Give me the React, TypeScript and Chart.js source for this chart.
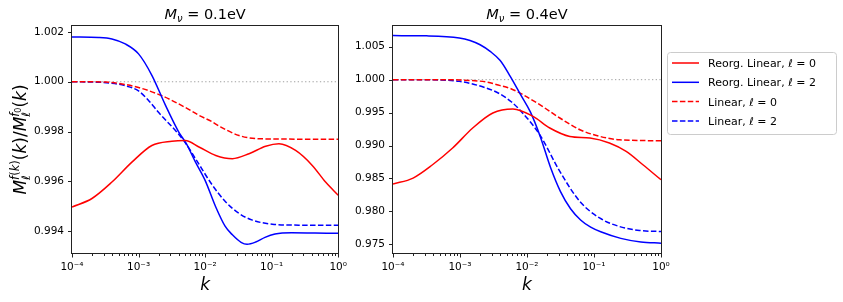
import React, { useEffect, useRef } from 'react';
import { Chart, registerables } from 'chart.js';

Chart.register(...registerables);

const FONT = "'DejaVu Sans', 'Liberation Sans', sans-serif";

// ---- Data: log10(k) sample positions and ratio values ----
// Panel 1: M_nu = 0.1 eV
const p1ReorgL0LogK = [-4, -3.7, -3.4, -3.1, -2.8, -2.5, -2.3, -2.085, -1.84, -1.59, -1.34, -1.09, -0.89, -0.64, -0.39, -0.19, 0];
const p1ReorgL0 = [0.99497, 0.99531, 0.99597, 0.99677, 0.99744, 0.99761, 0.99764, 0.99737, 0.99704, 0.99691, 0.99711, 0.99741, 0.99751, 0.99724, 0.99664, 0.99597, 0.99544];

const p1ReorgL2LogK = [-4, -3.6, -3.4, -3.2, -3.0, -2.8, -2.6, -2.4, -2.28, -2.15, -2.0, -1.84, -1.7, -1.59, -1.46, -1.37, -1.24, -1.1, -0.95, -0.7, -0.35, 0];
const p1ReorgL2 = [1.0018, 1.00178, 1.00172, 1.00152, 1.00112, 1.00026, 0.99908, 0.998, 0.9975, 0.9968, 0.99604, 0.99497, 0.9942, 0.99385, 0.99355, 0.99347, 0.99356, 0.99375, 0.99388, 0.99393, 0.99392, 0.99391];

const p1LinL0LogK = [-4, -3.5, -3.4, -3.2, -3.0, -2.65, -2.3, -2.085, -1.9, -1.79, -1.49, -1.19, -0.89, -0.5, 0];
const p1LinL0 = [1.0, 0.99999, 0.99997, 0.99989, 0.99977, 0.99944, 0.99897, 0.99864, 0.9984, 0.99822, 0.99784, 0.99771, 0.9977, 0.99769, 0.99769];

const p1LinL2LogK = [-4, -3.6, -3.4, -3.2, -3.0, -2.85, -2.7, -2.4, -2.28, -2.1, -1.9, -1.69, -1.49, -1.29, -0.99, -0.59, 0];
const p1LinL2 = [1.0, 0.99998, 0.99994, 0.99984, 0.99963, 0.99925, 0.99877, 0.9979, 0.99748, 0.99672, 0.99588, 0.99517, 0.99471, 0.99444, 0.99428, 0.99424, 0.99424];

// Panel 2: M_nu = 0.4 eV
const p2ReorgL0LogK = [-4, -3.7, -3.41, -3.11, -2.81, -2.51, -2.21, -1.91, -1.66, -1.36, -1.06, -0.77, -0.52, -0.27, 0];
const p2ReorgL0 = [0.98415, 0.98506, 0.98708, 0.98962, 0.99266, 0.99494, 0.99554, 0.99442, 0.99266, 0.99138, 0.99114, 0.99038, 0.9891, 0.98708, 0.9848];

const p2ReorgL2LogK = [-4, -3.5, -3.01, -2.85, -2.7, -2.55, -2.4, -2.25, -2.1, -1.95, -1.8, -1.65, -1.5, -1.35, -1.2, -1.05, -0.9, -0.6, -0.3, 0];
const p2ReorgL2 = [1.00669, 1.00665, 1.00634, 1.00595, 1.0053, 1.0043, 1.0029, 1.0005, 0.9978, 0.9951, 0.9913, 0.9867, 0.983, 0.9804, 0.9787, 0.9776, 0.9769, 0.9759, 0.97535, 0.97518];

const p2LinL0LogK = [-4, -3.3, -3.0, -2.61, -2.41, -2.24, -2.11, -1.81, -1.51, -1.21, -0.91, -0.62, 0];
const p2LinL0 = [1.0, 0.99999, 0.99995, 0.99965, 0.99913, 0.99863, 0.998, 0.9962, 0.99418, 0.9924, 0.99138, 0.99088, 0.99072];

const p2LinL2LogK = [-4, -3.5, -3.01, -2.61, -2.41, -2.23, -2.11, -1.81, -1.51, -1.21, -0.91, -0.62, -0.32, 0];
const p2LinL2 = [1.0, 0.99998, 0.99975, 0.99874, 0.99787, 0.99661, 0.99544, 0.99164, 0.98606, 0.9815, 0.97896, 0.9777, 0.9771, 0.97694];

// Axis ranges & ticks
const kMin = 1e-4;
const kMax = 1;
const p1YRange = [0.99308, 1.00228];
const p1YStep = 0.002;
const p2YRange = [0.97353, 1.0083];
const p2YStep = 0.005;
const refLevel = 1.0;

const seriesLabels = ['Reorg. Linear, ℓ = 0', 'Reorg. Linear, ℓ = 2', 'Linear, ℓ = 0', 'Linear, ℓ = 2'];
const superDigits: Record<string, string> = { '-': '⁻', '0': '⁰', '1': '¹', '2': '²', '3': '³', '4': '⁴', '5': '⁵', '6': '⁶', '7': '⁷', '8': '⁸', '9': '⁹' };

// ---- math-text helpers ----
type Run = { t: string; it?: boolean; s: number; dy?: number };
type Group = { sup: Run[]; sub: Run[] };
type Item = Run | Group;

const fontOf = (r: Run) => `${r.it ? 'italic ' : ''}${r.s}px ${FONT}`;
function runW(ctx: CanvasRenderingContext2D, r: Run) { ctx.font = fontOf(r); return ctx.measureText(r.t).width; }
function runsW(ctx: CanvasRenderingContext2D, rs: Run[]) { return rs.reduce((a, r) => a + runW(ctx, r), 0); }
function itemW(ctx: CanvasRenderingContext2D, it: Item) {
  return 'sup' in it ? Math.max(runsW(ctx, it.sup), runsW(ctx, it.sub)) : runW(ctx, it);
}
function mathW(ctx: CanvasRenderingContext2D, items: Item[]) { return items.reduce((a, it) => a + itemW(ctx, it), 0); }
function drawRuns(ctx: CanvasRenderingContext2D, rs: Run[], x: number, y: number) {
  let cx = x;
  for (const r of rs) { ctx.font = fontOf(r); ctx.fillText(r.t, cx, y + (r.dy || 0)); cx += ctx.measureText(r.t).width; }
  return cx;
}
function drawMath(ctx: CanvasRenderingContext2D, items: Item[], x: number, y: number) {
  let cx = x;
  for (const it of items) {
    if ('sup' in it) { drawRuns(ctx, it.sup, cx, y); drawRuns(ctx, it.sub, cx, y); cx += itemW(ctx, it); }
    else cx = drawRuns(ctx, [it], cx, y);
  }
}

function titleItems(mass: string): Item[] {
  return [
    { t: 'M', it: true, s: 14.5 },
    { t: 'ν', it: true, s: 10, dy: 3 },
    { t: ' = ' + mass, s: 14.5 },
    { t: 'eV', s: 14.5 },
  ];
}

const YS = 17;
const ys = 11.5;
const yLabelItems: Item[] = [
  { t: 'M', it: true, s: YS },
  { sup: [{ t: 'f', it: true, s: ys, dy: -7.5 }, { t: '(', s: ys, dy: -7.5 }, { t: 'k', it: true, s: ys, dy: -7.5 }, { t: ')', s: ys, dy: -7.5 }], sub: [{ t: 'ℓ', it: true, s: ys, dy: 4 }] },
  { t: '(', s: YS }, { t: 'k', it: true, s: YS }, { t: ')', s: YS }, { t: '/', s: YS },
  { t: 'M', it: true, s: YS },
  { sup: [{ t: 'f', it: true, s: ys, dy: -7.5 }, { t: '0', s: 8, dy: -5 }], sub: [{ t: 'ℓ', it: true, s: ys, dy: 4 }] },
  { t: '(', s: YS }, { t: 'k', it: true, s: YS }, { t: ')', s: YS },
];

function makeDecor(opts: { title: string; yLabel: boolean; legend: boolean }) {
  return {
    id: 'decor',
    afterDraw(chart: any) {
      const ctx: CanvasRenderingContext2D = chart.ctx;
      const { left, right, top, bottom } = chart.chartArea;
      const xs = chart.scales.x;
      const yS = chart.scales.y;
      ctx.save();
      ctx.strokeStyle = '#222';
      ctx.lineWidth = 1;
      // frame
      ctx.strokeRect(Math.round(left) - 0.5, Math.round(top) + 0.5, Math.round(right - left) + 1, Math.round(bottom - top) - 1);
      // x ticks (major + minor)
      ctx.beginPath();
      for (let e = -4; e <= 0; e++) {
        for (let m = 1; m <= 9; m++) {
          if (e === 0 && m > 1) break;
          const v = m * Math.pow(10, e);
          const px = Math.round(xs.getPixelForValue(v)) + 0.5;
          const len = m === 1 ? 3.5 : 2;
          ctx.moveTo(px, Math.round(bottom));
          ctx.lineTo(px, Math.round(bottom) + len);
        }
      }
      // y ticks
      for (const t of yS.ticks) {
        const py = Math.round(yS.getPixelForValue(t.value)) + 0.5;
        ctx.moveTo(Math.round(left) - 0.5, py);
        ctx.lineTo(Math.round(left) - 4, py);
      }
      ctx.stroke();

      ctx.fillStyle = '#000';
      ctx.textBaseline = 'alphabetic';
      ctx.textAlign = 'left';
      // title
      const ti = titleItems(opts.title);
      const tw = mathW(ctx, ti);
      drawMath(ctx, ti, (left + right) / 2 - tw / 2, 18.5);
      // x label
      ctx.font = `italic 17px ${FONT}`;
      const kw = ctx.measureText('k').width;
      ctx.fillText('k', (left + right) / 2 - kw / 2, 290);
      // y label
      if (opts.yLabel) {
        const w = mathW(ctx, yLabelItems);
        ctx.save();
        ctx.translate(26, (top + bottom) / 2);
        ctx.rotate(-Math.PI / 2);
        drawMath(ctx, yLabelItems, -w / 2, 0);
        ctx.restore();
      }
      // legend
      if (opts.legend) {
        const bx = 317, by = 52, bw = 169, bh = 82;
        ctx.beginPath();
        ctx.roundRect(bx + 0.5, by + 0.5, bw, bh, 3);
        ctx.fillStyle = 'rgba(255,255,255,0.8)';
        ctx.fill();
        ctx.strokeStyle = '#cccccc';
        ctx.stroke();
        const ds = chart.data.datasets.filter((d: any) => d.label);
        ds.forEach((d: any, i: number) => {
          const cy = 63 + i * 19.3;
          ctx.beginPath();
          ctx.strokeStyle = d.borderColor;
          ctx.lineWidth = 1.5;
          ctx.setLineDash(d.borderDash || []);
          ctx.moveTo(bx + 5, cy);
          ctx.lineTo(bx + 32, cy);
          ctx.stroke();
          ctx.setLineDash([]);
          ctx.fillStyle = '#000';
          const parts = String(d.label).split('ℓ');
          const items: Item[] = [{ t: parts[0], s: 11 }, { t: 'ℓ', it: true, s: 11 }, { t: parts[1], s: 11 }];
          drawMath(ctx, items, bx + 41, cy + 4);
        });
      }
      ctx.restore();
    },
  };
}

function toPts(logk: number[], vals: number[]) {
  return logk.map((e, i) => ({ x: Math.pow(10, e), y: vals[i] }));
}

function makeConfig(p: {
  series: { logk: number[]; vals: number[] }[];
  yRange: number[];
  yStep: number;
  yWidth: number;
  padRight: number;
  title: string;
  yLabel: boolean;
  legend: boolean;
}): any {
  const colors = ['#ff0000', '#0000ff', '#ff0000', '#0000ff'];
  const dashes = [[], [], [5.5, 2.4], [5.5, 2.4]];
  const datasets: any[] = p.series.map((s, i) => ({
    label: seriesLabels[i],
    data: toPts(s.logk, s.vals),
    borderColor: colors[i],
    borderWidth: 1.5,
    borderDash: dashes[i],
    pointRadius: 0,
    cubicInterpolationMode: 'monotone',
    fill: false,
    order: i,
  }));
  datasets.push({
    label: '',
    data: [{ x: kMin, y: refLevel }, { x: kMax, y: refLevel }],
    borderColor: '#a0a0a0',
    borderWidth: 1,
    borderDash: [1.3, 2.4],
    pointRadius: 0,
    fill: false,
    order: 10,
  });
  const font = { family: FONT, size: 10.5 };
  return {
    type: 'line',
    data: { datasets },
    options: {
      animation: false,
      responsive: false,
      maintainAspectRatio: false,
      layout: { padding: { top: 25, right: p.padRight, left: 0, bottom: 0 } },
      plugins: { legend: { display: false }, tooltip: { enabled: false }, title: { display: false } },
      scales: {
        x: {
          type: 'logarithmic',
          min: kMin,
          max: kMax,
          grid: { drawOnChartArea: false, drawTicks: true, tickLength: 4, color: 'rgba(0,0,0,0)' },
          border: { display: false },
          ticks: {
            autoSkip: false,
            maxRotation: 0,
            minRotation: 0,
            padding: 3,
            color: '#000',
            font,
            callback: (v: any) => {
              const e = Math.log10(Number(v));
              if (Math.abs(e - Math.round(e)) > 1e-6) return '';
              const r = Math.round(e);
              return '10' + String(r).split('').map((c) => superDigits[c]).join('');
            },
          },
          afterFit: (s: any) => { s.height = 48; },
        },
        y: {
          type: 'linear',
          min: p.yRange[0],
          max: p.yRange[1],
          grid: { drawOnChartArea: false, drawTicks: true, tickLength: 4, color: 'rgba(0,0,0,0)' },
          border: { display: false },
          ticks: {
            stepSize: p.yStep,
            includeBounds: false,
            padding: 4,
            color: '#000',
            font,
            callback: (v: any) => Number(v).toFixed(3),
          },
          afterFit: (s: any) => { s.width = p.yWidth; },
        },
      },
    },
    plugins: [makeDecor({ title: p.title, yLabel: p.yLabel, legend: p.legend })],
  };
}

export default function App() {
  const leftRef = useRef<HTMLCanvasElement>(null);
  const rightRef = useRef<HTMLCanvasElement>(null);
  useEffect(() => {
    const c1 = new Chart(leftRef.current!, makeConfig({
      series: [
        { logk: p1ReorgL0LogK, vals: p1ReorgL0 },
        { logk: p1ReorgL2LogK, vals: p1ReorgL2 },
        { logk: p1LinL0LogK, vals: p1LinL0 },
        { logk: p1LinL2LogK, vals: p1LinL2 },
      ],
      yRange: p1YRange, yStep: p1YStep, yWidth: 72, padRight: 10,
      title: '0.1', yLabel: true, legend: false,
    }));
    const c2 = new Chart(rightRef.current!, makeConfig({
      series: [
        { logk: p2ReorgL0LogK, vals: p2ReorgL0 },
        { logk: p2ReorgL2LogK, vals: p2ReorgL2 },
        { logk: p2LinL0LogK, vals: p2LinL0 },
        { logk: p2LinL2LogK, vals: p2LinL2 },
      ],
      yRange: p2YRange, yStep: p2YStep, yWidth: 43, padRight: 182,
      title: '0.4', yLabel: false, legend: true,
    }));
    return () => { c1.destroy(); c2.destroy(); };
  }, []);
  return (
    <div style={{ position: 'fixed', left: 0, top: 0, width: 843, height: 302, background: '#fff' }}>
      <canvas ref={leftRef} width={350} height={302} style={{ position: 'absolute', left: 0, top: 0, width: 350, height: 302 }} />
      <canvas ref={rightRef} width={493} height={302} style={{ position: 'absolute', left: 350, top: 0, width: 493, height: 302 }} />
    </div>
  );
}
